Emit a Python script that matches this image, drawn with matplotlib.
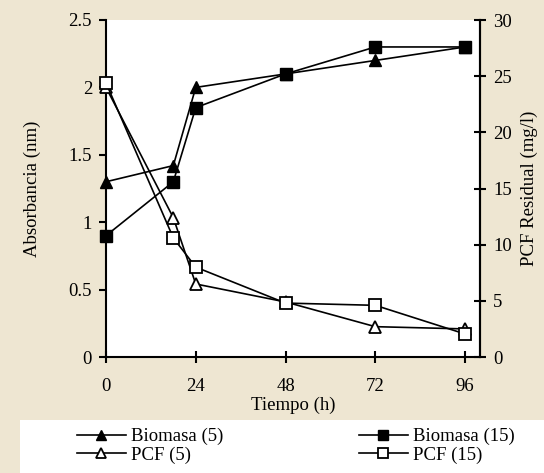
import matplotlib
matplotlib.use("Agg")
from matplotlib import pyplot as plt
from matplotlib.patches import Rectangle

# time points (h)
tiempo = [0, 18, 24, 48, 72, 96]

# absorbance (left axis)
biomasa_5 = [1.3, 1.42, 2.0, 2.1, 2.2, 2.3]
biomasa_15 = [0.9, 1.3, 1.85, 2.1, 2.3, 2.3]

# residual PCF mg/l (right axis)
pcf_5 = [24.0, 12.4, 6.5, 4.9, 2.7, 2.5]
pcf_15 = [24.4, 10.6, 8.0, 4.8, 4.6, 2.05]

plt.rcParams['font.family'] = ['Liberation Serif', 'DejaVu Serif']
plt.rcParams['font.size'] = 13.5

bg = '#eee6d2'
fig = plt.figure(figsize=(5.44, 4.73), dpi=100, facecolor=bg)
ax = fig.add_axes([106/544, 1 - 357/473, (480 - 106)/544, (357 - 20)/473])
ax2 = ax.twinx()

lw = 1.2
ms = 8
l1, = ax.plot(tiempo, biomasa_5, color='k', lw=lw, marker='^', ms=ms, mfc='k', clip_on=False, label='Biomasa (5)')
l3, = ax.plot(tiempo, biomasa_15, color='k', lw=lw, marker='s', ms=ms, mfc='k', clip_on=False, label='Biomasa (15)')
l2, = ax2.plot(tiempo, pcf_5, color='k', lw=lw, marker='^', ms=ms, mfc='white', mew=1.3, clip_on=False, label='PCF (5)')
l4, = ax2.plot(tiempo, pcf_15, color='k', lw=lw, marker='s', ms=ms, mfc='white', mew=1.3, clip_on=False, label='PCF (15)')

ax.set_xlim(0, 100)
ax.set_ylim(0, 2.5)
ax2.set_ylim(0, 30)
ax.set_xticks([0, 24, 48, 72, 96])
ax.set_yticks([0, 0.5, 1, 1.5, 2, 2.5])
ax.set_yticklabels(['0', '0.5', '1', '1.5', '2', '2.5'])
ax2.set_yticks([0, 5, 10, 15, 20, 25, 30])

for a in (ax, ax2):
    a.spines['top'].set_visible(False)
    for s in a.spines.values():
        s.set_linewidth(1.5)
ax2.spines['left'].set_visible(False)
ax2.spines['bottom'].set_visible(False)

ax.tick_params(axis='y', direction='out', length=5, width=1.5, pad=5)
ax.tick_params(axis='x', direction='inout', length=8, width=1.5, pad=11)
ax2.tick_params(axis='y', direction='inout', length=9, width=1.5, pad=5)

ax.set_xlabel('Tiempo (h)', labelpad=1)
ax.set_ylabel('Absorbancia (nm)', labelpad=20)
ax2.set_ylabel('PCF Residual (mg/l)', labelpad=6)

# white legend panel at the bottom
fig.patches.append(Rectangle((20/544, 0), 1 - 20/544, 53/473, transform=fig.transFigure,
                             facecolor='white', edgecolor='none', zorder=0))
fig.legend([l1, l2, l3, l4], ['Biomasa (5)', 'PCF (5)', 'Biomasa (15)', 'PCF (15)'],
           ncol=2, loc='upper left', bbox_to_anchor=(77/544, 45/473), frameon=False,
           handlelength=2.6, handletextpad=0.3, columnspacing=7.2, labelspacing=0.05,
           borderaxespad=0, markerscale=0.85, borderpad=0, fontsize=13.5)

fig.savefig('out.png', dpi=100, facecolor=bg)
